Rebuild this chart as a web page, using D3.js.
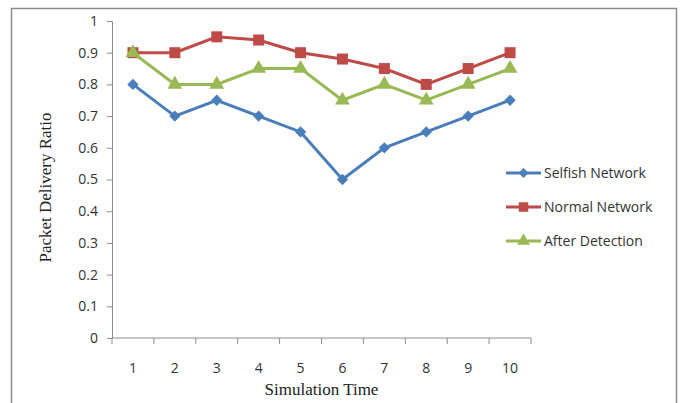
<!DOCTYPE html>
<html>
<head>
<meta charset="utf-8">
<script src="https://cdn.jsdelivr.net/npm/d3@7"></script>
<style>
  body { margin: 0; background: #fff; }
  svg { display: block; }
</style>
</head>
<body>
<svg id="chart" width="680" height="403"></svg>
<script>
// data
const categories = [1, 2, 3, 4, 5, 6, 7, 8, 9, 10]
const selfish = [0.8, 0.7, 0.75, 0.7, 0.65, 0.5, 0.6, 0.65, 0.7, 0.75]
const normal = [0.9, 0.9, 0.95, 0.94, 0.9, 0.88, 0.85, 0.8, 0.85, 0.9]
const afterDetection = [0.9, 0.8, 0.8, 0.85, 0.85, 0.75, 0.8, 0.75, 0.8, 0.85]
const yTicks = [0, 0.1, 0.2, 0.3, 0.4, 0.5, 0.6, 0.7, 0.8, 0.9, 1]

// diamond = square turned 45 degrees
const series = [
  { name: 'Selfish Network', values: selfish, color: '#4a7ebb', symbol: d3.symbolSquare, size: 64, rot: 45 },
  { name: 'Normal Network', values: normal, color: '#be4b48', symbol: d3.symbolSquare, size: 121, rot: 0 },
  { name: 'After Detection', values: afterDetection, color: '#98b954', symbol: d3.symbolTriangle, size: 95, rot: 0 }
]

const svg = d3.select('#chart')
const plot = { left: 112, right: 531, top: 21, bottom: 338 }
const sans = 'Open Sans, sans-serif'
const serif = 'Liberation Serif, serif'

// outer frame
svg.append('path')
  .attr('d', 'M11.5 420 V8.5 H676.5 V420')
  .attr('fill', 'none')
  .attr('stroke', '#8c8c8c')
  .attr('stroke-width', 1.5)

const x = d3.scaleBand().domain(categories).range([plot.left, plot.right])
const y = d3.scaleLinear().domain([0, 1]).range([plot.bottom, plot.top])

// y axis
const yAxis = svg.append('g')
  .attr('transform', `translate(${plot.left},0)`)
  .call(d3.axisLeft(y).tickValues(yTicks).tickSize(5).tickSizeOuter(0)
    .tickFormat(d => d === 0 || d === 1 ? d : d.toFixed(1)))
yAxis.select('.domain').attr('stroke', '#8c8c8c')
yAxis.selectAll('.tick line').attr('stroke', '#8c8c8c')
yAxis.selectAll('.tick text')
  .attr('x', -14)
  .attr('font-family', sans)
  .attr('font-size', 14)
  .attr('fill', '#333')

// x axis, ticks between categories
const xAxis = svg.append('g')
  .attr('transform', `translate(0,${plot.bottom})`)
xAxis.append('line')
  .attr('x1', plot.left).attr('x2', plot.right)
  .attr('stroke', '#8c8c8c')
xAxis.selectAll('.tk')
  .data([categories[0]].concat(categories))
  .enter().append('line')
  .attr('x1', (d, i) => i === 0 ? x(d) : x(d) + x.bandwidth())
  .attr('x2', (d, i) => i === 0 ? x(d) : x(d) + x.bandwidth())
  .attr('y1', 0).attr('y2', 6)
  .attr('stroke', '#8c8c8c')
xAxis.selectAll('text')
  .data(categories)
  .enter().append('text')
  .attr('x', d => x(d) + x.bandwidth() / 2)
  .attr('y', 35)
  .attr('text-anchor', 'middle')
  .attr('font-family', sans)
  .attr('font-size', 14)
  .attr('fill', '#333')
  .text(d => d)

// axis titles
svg.append('text')
  .attr('x', plot.left + (plot.right - plot.left) / 2)
  .attr('y', 395)
  .attr('text-anchor', 'middle')
  .attr('font-family', serif)
  .attr('font-size', 17)
  .attr('fill', '#222')
  .text('Simulation Time')

svg.append('text')
  .attr('transform', `translate(51,${(plot.top + plot.bottom) / 2 + 8}) rotate(-90)`)
  .attr('text-anchor', 'middle')
  .attr('font-family', serif)
  .attr('font-size', 17)
  .attr('fill', '#222')
  .text('Packet Delivery Ratio')

// lines + markers
const cx = d => x(d) + x.bandwidth() / 2
const line = d3.line()
  .x((v, i) => cx(categories[i]))
  .y(v => y(v))

series.forEach(s => {
  const g = svg.append('g')
  g.append('path')
    .attr('d', line(s.values))
    .attr('fill', 'none')
    .attr('stroke', s.color)
    .attr('stroke-width', 3)
  g.selectAll('path.m')
    .data(s.values)
    .enter().append('path')
    .classed('m', true)
    .attr('d', d3.symbol().type(s.symbol).size(s.size))
    .attr('transform', (v, i) => `translate(${cx(categories[i])},${y(v)}) rotate(${s.rot})`)
    .attr('fill', s.color)
})

// legend
const legend = svg.append('g')
const rowY = [173, 207, 241]
series.forEach((s, i) => {
  const g = legend.append('g').attr('transform', `translate(506,${rowY[i]})`)
  g.append('line')
    .attr('x1', 0).attr('x2', 35)
    .attr('stroke', s.color)
    .attr('stroke-width', 3)
  g.append('path')
    .attr('d', d3.symbol().type(s.symbol).size(s.size * 0.75))
    .attr('transform', `translate(17.5,0) rotate(${s.rot})`)
    .attr('fill', s.color)
  g.append('text')
    .attr('x', 38)
    .attr('dy', '0.35em')
    .attr('font-family', sans)
    .attr('font-size', 14)
    .attr('fill', '#333')
    .text(s.name)
})
</script>
</body>
</html>
